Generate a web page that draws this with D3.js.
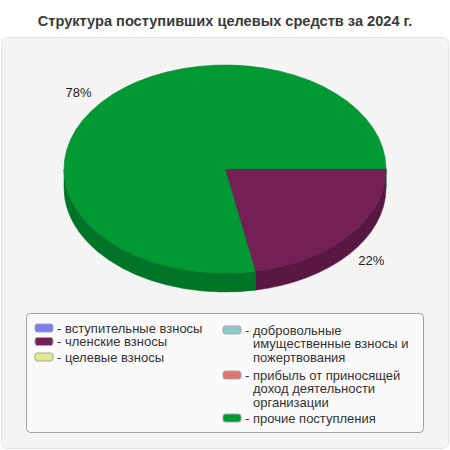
<!DOCTYPE html>
<html>
<head>
<meta charset="utf-8">
<script src="https://cdn.jsdelivr.net/npm/d3@7"></script>
<style>
  body { margin: 0; background: #fff; }
  svg text { font-family: "Liberation Sans", Arial, sans-serif; }
</style>
</head>
<body>
<div id="chart"></div>
<script>
const title = "Структура поступивших целевых средств за 2024 г.";
const categories = [
  "вступительные взносы",
  "членские взносы",
  "целевые взносы",
  "добровольные имущественные взносы и пожертвования",
  "прибыль от приносящей доход деятельности организации",
  "прочие поступления"
];
const values = [0, 22, 0, 0, 0, 78];
const colors = ["#7b7bef", "#741f56", "#e6e68c", "#8cc9c9", "#e07272", "#009933"];
// legend text split into lines as in the picture
const legendLines = [
  ["вступительные взносы"],
  ["членские взносы"],
  ["целевые взносы"],
  ["добровольные", "имущественные взносы и", "пожертвования"],
  ["прибыль от приносящей", "доход деятельности", "организации"],
  ["прочие поступления"]
];

const width = 450, height = 450;
const cx = 225, cy = 169, rx = 161, ry = 104, depth = 19;

const svg = d3.select("#chart").append("svg")
  .attr("width", width).attr("height", height);

// panel
svg.append("rect")
  .attr("x", 1.5).attr("y", 37.5).attr("width", 447).attr("height", 411)
  .attr("rx", 6).attr("fill", "#f4f4f4").attr("stroke", "#e2e2e2");

svg.append("text")
  .attr("x", 225).attr("y", 26)
  .attr("text-anchor", "middle")
  .attr("font-size", 14.6).attr("font-weight", "bold").attr("fill", "#3a3a3a")
  .text(title);

const pie = d3.pie().sort(null).value(d => d)
  .startAngle(Math.PI / 2).endAngle(Math.PI / 2 + 2 * Math.PI);
const arcs = pie(values).map((d, i) => ({ ...d, i }));

const pt = (a, dy = 0) => [cx + rx * Math.sin(a), cy - ry * Math.cos(a) + dy];

function topPath(s, e) {
  const p0 = pt(s), p1 = pt(e);
  const large = e - s > Math.PI ? 1 : 0;
  return `M${cx},${cy}L${p0}A${rx},${ry} 0 ${large} 1 ${p1}Z`;
}
function sidePath(s, e) {
  const p0 = pt(s), p1 = pt(e), p2 = pt(e, depth), p3 = pt(s, depth);
  return `M${p0}A${rx},${ry} 0 0 1 ${p1}L${p2}A${rx},${ry} 0 0 0 ${p3}Z`;
}

// sides: only the front half (angles PI/2..3PI/2, and +2PI)
const sides = [];
arcs.forEach(d => {
  if (d.value <= 0) return;
  [[Math.PI / 2, 3 * Math.PI / 2], [5 * Math.PI / 2, 7 * Math.PI / 2]].forEach(([lo, hi]) => {
    const s = Math.max(d.startAngle, lo), e = Math.min(d.endAngle, hi);
    if (e > s) sides.push({ s, e, i: d.i });
  });
});

const g = svg.append("g");
g.selectAll("path.side").data(sides).join("path")
  .attr("class", "side")
  .attr("d", d => sidePath(d.s, d.e))
  .attr("fill", d => d3.color(colors[d.i]).darker(0.75))
  .attr("stroke", d => d3.color(colors[d.i]).darker(0.75))
  .attr("stroke-width", 0.5);

g.selectAll("path.top").data(arcs.filter(d => d.value > 0)).join("path")
  .attr("class", "top")
  .attr("d", d => topPath(d.startAngle, d.endAngle))
  .attr("fill", d => colors[d.i])
  .attr("stroke", d => d3.color(colors[d.i]).darker(0.4))
  .attr("stroke-width", 0.6);

const total = d3.sum(values);
g.selectAll("text.lbl").data(arcs.filter(d => d.value > 0)).join("text")
  .attr("class", "lbl")
  .attr("x", d => cx + rx * 1.18 * Math.sin((d.startAngle + d.endAngle) / 2))
  .attr("y", d => {
    const m = (d.startAngle + d.endAngle) / 2;
    const y = cy - ry * 1.16 * Math.cos(m);
    return y + (y > cy ? 14 : 0) + 5;
  })
  .attr("text-anchor", "middle")
  .attr("font-size", 13).attr("fill", "#222")
  .text(d => Math.round(d.value / total * 100) + "%");

// legend
svg.append("rect")
  .attr("x", 26.5).attr("y", 313.5).attr("width", 397).attr("height", 119)
  .attr("rx", 4).attr("fill", "#fafafa").attr("stroke", "#a0a0a0");

const lineH = 13.5;
const legendPos = [
  { x: 35, y: 328 }, { x: 35, y: 341.5 }, { x: 35, y: 357 },
  { x: 223, y: 330 }, { x: 223, y: 375 }, { x: 223, y: 418 }
];
const leg = svg.append("g").selectAll("g").data(categories).join("g")
  .attr("transform", (d, i) => `translate(${legendPos[i].x},${legendPos[i].y})`);
leg.append("rect")
  .attr("x", 0).attr("y", -4).attr("width", 18).attr("height", 8).attr("rx", 2.5)
  .attr("fill", (d, i) => colors[i]).attr("stroke", "#a5a5a5");
leg.append("text")
  .attr("x", 22).attr("y", 4.5)
  .attr("font-size", 13).attr("fill", "#333")
  .text("-");
leg.each(function (d, i) {
  const t = d3.select(this).append("text")
    .attr("font-size", 13).attr("fill", "#333");
  t.selectAll("tspan").data(legendLines[i]).join("tspan")
    .attr("x", 30).attr("y", (l, j) => 4.5 + j * lineH)
    .text(l => l);
});
</script>
</body>
</html>
